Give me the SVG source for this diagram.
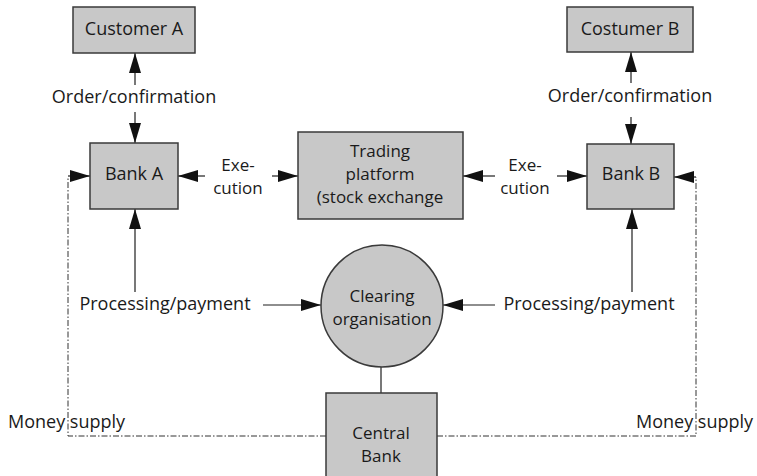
<svg xmlns="http://www.w3.org/2000/svg" width="757" height="476" viewBox="0 0 757 476">
<style>
.box{fill:#c8c8c8;stroke:#3a3a3a;stroke-width:1.5}
.t{font-family:"Open Sans","Noto Sans",sans-serif;font-size:18px;fill:#1a1a1a;text-anchor:middle}
.m{font-size:17px}
.ts{font-family:"Open Sans","Noto Sans",sans-serif;font-size:18px;fill:#1a1a1a;text-anchor:start}
.ln{stroke:#1e1e1e;stroke-width:1.2;fill:none}
.ar{stroke:#1e1e1e;stroke-width:1.2;fill:none;marker-end:url(#ah)}
.dash{stroke:#333;stroke-width:1;fill:none;stroke-dasharray:6 2 1.5 2}
</style>
<defs>
<marker id="ah" markerUnits="userSpaceOnUse" markerWidth="20" markerHeight="12" refX="20" refY="6" orient="auto">
<path d="M0,0 L20,6 L0,12 z" fill="#111"/>
</marker>
</defs>
<rect width="757" height="476" fill="#fff"/>
<g id="connectors">
<line class="ar" x1="135" y1="85" x2="135" y2="53"/>
<line class="ar" x1="135" y1="112" x2="135" y2="143"/>
<line class="ar" x1="631" y1="83" x2="631" y2="52"/>
<line class="ar" x1="631" y1="117" x2="631" y2="144"/>
<line class="ar" x1="205" y1="176" x2="178" y2="176"/>
<line class="ar" x1="272" y1="176" x2="298" y2="176"/>
<line class="ar" x1="495" y1="176" x2="463" y2="176"/>
<line class="ar" x1="557" y1="176" x2="587" y2="176"/>
<line class="ar" x1="135" y1="292" x2="135" y2="209"/>
<line class="ar" x1="632" y1="292" x2="632" y2="209"/>
<line class="ar" x1="263" y1="305" x2="321" y2="305"/>
<line class="ar" x1="495" y1="305" x2="443" y2="305"/>
<line class="ln" x1="381" y1="367" x2="381" y2="393"/>
<polyline class="dash" points="326,436 68,436 68,177"/>
<line class="ar" x1="68" y1="176" x2="90" y2="176"/>
<polyline class="dash" points="437,436 696,436 696,177"/>
<line class="ar" x1="696" y1="177" x2="674" y2="177"/>
</g>
<g id="customerA"><rect class="box" x="73" y="7" width="122" height="46"/><text class="t" x="134" y="35">Customer A</text></g>
<g id="customerB"><rect class="box" x="567" y="7" width="126" height="45"/><text class="t" x="630" y="35">Costumer B</text></g>
<g id="bankA"><rect class="box" x="90" y="143" width="88" height="66"/><text class="t" x="134" y="180">Bank A</text></g>
<g id="bankB"><rect class="box" x="587" y="144" width="87" height="65"/><text class="t" x="631" y="180">Bank B</text></g>
<g id="trading"><rect class="box" x="298" y="132" width="165" height="87"/>
<text class="t m" x="380" y="157">Trading<tspan x="380" dy="23">platform</tspan><tspan x="380" dy="23">(stock exchange</tspan></text></g>
<g id="clearing"><circle class="box" cx="382" cy="306" r="61"/>
<text class="t m" x="382" y="302">Clearing<tspan x="382" dy="23">organisation</tspan></text></g>
<g id="centralBank"><rect class="box" x="326" y="393" width="111" height="90"/>
<text class="t m" x="381" y="439">Central<tspan x="381" dy="23">Bank</tspan></text></g>
<g id="labels">
<text class="t m" x="238" y="171">Exe-<tspan x="238" dy="23">cution</tspan></text>
<text class="t m" x="525" y="171">Exe-<tspan x="525" dy="23">cution</tspan></text>
<text class="t" x="134" y="103">Order/confirmation</text>
<text class="t" x="630" y="102">Order/confirmation</text>
<text class="t" x="165" y="310">Processing/payment</text>
<text class="t" x="589" y="310">Processing/payment</text>
<text class="ts" x="8" y="428">Money supply</text>
<text class="ts" x="636" y="428">Money supply</text>
</g>
</svg>
